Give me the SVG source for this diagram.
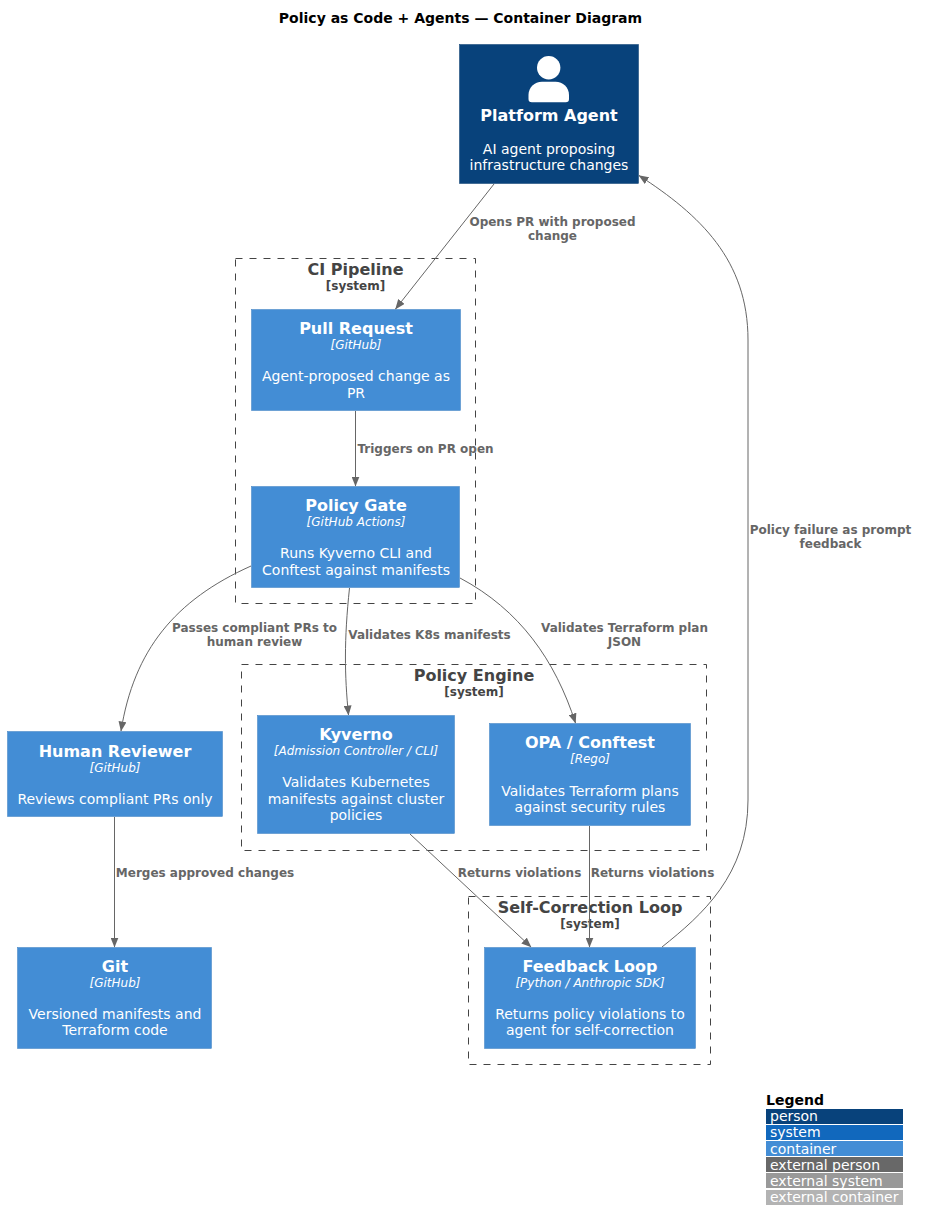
<svg xmlns="http://www.w3.org/2000/svg" width="926" height="1230" viewBox="0 0 926 1230">
<style>
text{font-family:"DejaVu Sans",sans-serif;text-anchor:middle}
.title{font-size:14px;font-weight:700;fill:#000}
.n{fill:#438DD5;stroke:#3C7FC0;stroke-width:.5}
.name{font-size:16px;font-weight:700;fill:#fff}
.tech{font-size:12px;font-style:italic;fill:#fff}
.desc{font-size:14px;fill:#fff}
.b{fill:none;stroke:#444;stroke-width:1;stroke-dasharray:7 7}
.bn{font-size:16px;font-weight:700;fill:#444}
.bt{font-size:12px;font-weight:700;fill:#444}
.c{fill:none;stroke:#666;stroke-width:1}
.l{font-size:12px;font-weight:700;fill:#666}
.lg{font-size:14px;fill:#fff;text-anchor:start}
</style>
<defs><marker id="a" viewBox="0 0 10 8" refX="9.5" refY="4" markerWidth="10" markerHeight="8" orient="auto" markerUnits="userSpaceOnUse"><path d="M0 0L10 4L0 8z" fill="#666"/></marker></defs>
<rect width="926" height="1230" fill="#fff"/>
<text class="title" x="460.500" y="23">Policy as Code + Agents — Container Diagram</text>
<g id="boundaries">
<g id="ci-pipeline"><rect class="b" x="235.500" y="258.500" width="240" height="345"/><text class="bn" x="355.500" y="275">CI Pipeline</text><text class="bt" x="355.500" y="290">[system]</text></g>
<g id="policy-engine"><rect class="b" x="241.500" y="664.500" width="465" height="186"/><text class="bn" x="474" y="681">Policy Engine</text><text class="bt" x="474" y="696">[system]</text></g>
<g id="self-correction"><rect class="b" x="468.500" y="896.500" width="242" height="168"/><text class="bn" x="590" y="913">Self-Correction Loop</text><text class="bt" x="590" y="928">[system]</text></g>
</g>
<g id="platform-agent"><rect x="459.500" y="44.500" width="179" height="139" fill="#08427B" stroke="#073B6F" stroke-width=".5"/><circle cx="548.700" cy="67.800" r="11.700" fill="#fff"/><path d="M528.500 99V95C528.500 87.500 534.500 81.700 542 81.700H555.500C563 81.700 569 87.500 569 95V99Q569 102.300 565.700 102.300H531.800Q528.500 102.300 528.500 99Z" fill="#fff"/><text class="name" x="549" y="121">Platform Agent</text><text class="desc" x="549" y="154">AI agent proposing</text><text class="desc" x="549" y="170">infrastructure changes</text></g>
<g id="pull-request"><rect class="n" x="251.500" y="309.500" width="209" height="101"/><text class="name" x="356" y="334">Pull Request</text><text class="tech" x="356" y="349">[GitHub]</text><text class="desc" x="356" y="381">Agent-proposed change as</text><text class="desc" x="356" y="398">PR</text></g>
<g id="policy-gate"><rect class="n" x="251.500" y="486.500" width="208" height="101"/><text class="name" x="356" y="511">Policy Gate</text><text class="tech" x="356" y="526">[GitHub Actions]</text><text class="desc" x="356" y="558">Runs Kyverno CLI and</text><text class="desc" x="356" y="575">Conftest against manifests</text></g>
<g id="kyverno"><rect class="n" x="257.500" y="715.500" width="197" height="118"/><text class="name" x="356" y="740">Kyverno</text><text class="tech" x="356" y="755">[Admission Controller / CLI]</text><text class="desc" x="356" y="787">Validates Kubernetes</text><text class="desc" x="356" y="804">manifests against cluster</text><text class="desc" x="356" y="820">policies</text></g>
<g id="opa-conftest"><rect class="n" x="489.500" y="723.500" width="201" height="102"/><text class="name" x="590" y="748">OPA / Conftest</text><text class="tech" x="590" y="763">[Rego]</text><text class="desc" x="590" y="796">Validates Terraform plans</text><text class="desc" x="590" y="812">against security rules</text></g>
<g id="human-reviewer"><rect class="n" x="7.500" y="731.500" width="215" height="85"/><text class="name" x="115" y="757">Human Reviewer</text><text class="tech" x="115" y="772">[GitHub]</text><text class="desc" x="115" y="804">Reviews compliant PRs only</text></g>
<g id="git"><rect class="n" x="17.500" y="947.500" width="194" height="101"/><text class="name" x="115" y="972">Git</text><text class="tech" x="115" y="987">[GitHub]</text><text class="desc" x="115" y="1019">Versioned manifests and</text><text class="desc" x="115" y="1035">Terraform code</text></g>
<g id="feedback-loop"><rect class="n" x="484.500" y="947.500" width="211" height="101"/><text class="name" x="590" y="972">Feedback Loop</text><text class="tech" x="590" y="987">[Python / Anthropic SDK]</text><text class="desc" x="590" y="1019">Returns policy violations to</text><text class="desc" x="590" y="1035">agent for self-correction</text></g>
<g id="connectors">
<path class="c" marker-end="url(#a)" d="M494 184L395.500 309"/>
<path class="c" marker-end="url(#a)" d="M355.500 411V486"/>
<path class="c" marker-end="url(#a)" d="M251 566C175 600 134 650 121 731"/>
<path class="c" marker-end="url(#a)" d="M349.500 588C344 640 344.500 675 348.500 715"/>
<path class="c" marker-end="url(#a)" d="M460 578C520 610 555 660 575.500 723"/>
<path class="c" marker-end="url(#a)" d="M114.500 817V947"/>
<path class="c" marker-end="url(#a)" d="M410 834L531 947"/>
<path class="c" marker-end="url(#a)" d="M589.500 826V947"/>
<path class="c" marker-end="url(#a)" d="M662 947C702 915 748 875 748 800V340C748 260 700 215 639 175.500"/>
<text class="l" x="552.500" y="226">Opens PR with proposed</text><text class="l" x="552.500" y="240">change</text>
<text class="l" x="425.500" y="453">Triggers on PR open</text>
<text class="l" x="254.500" y="632">Passes compliant PRs to</text><text class="l" x="254.500" y="646">human review</text>
<text class="l" x="429.500" y="639">Validates K8s manifests</text>
<text class="l" x="624.500" y="632">Validates Terraform plan</text><text class="l" x="624.500" y="646">JSON</text>
<text class="l" x="205" y="877">Merges approved changes</text>
<text class="l" x="519.500" y="877">Returns violations</text>
<text class="l" x="652.500" y="877">Returns violations</text>
<text class="l" x="830.500" y="534">Policy failure as prompt</text><text class="l" x="830.500" y="548">feedback</text>
</g>
<g id="legend">
<text x="766" y="1105" style="font-size:14px;font-weight:700;text-anchor:start" fill="#000">Legend</text>
<rect x="766" y="1109" width="137" height="15" fill="#08427B"/><text class="lg" x="770" y="1121">person</text>
<rect x="766" y="1125" width="137" height="15" fill="#1168BD"/><text class="lg" x="770" y="1137">system</text>
<rect x="766" y="1141" width="137" height="15" fill="#438DD5"/><text class="lg" x="770" y="1154">container</text>
<rect x="766" y="1157" width="137" height="15" fill="#686868"/><text class="lg" x="770" y="1170">external person</text>
<rect x="766" y="1173" width="137" height="15" fill="#999"/><text class="lg" x="770" y="1186">external system</text>
<rect x="766" y="1190" width="137" height="15" fill="#B3B3B3"/><text class="lg" x="770" y="1202">external container</text>
</g>
</svg>
